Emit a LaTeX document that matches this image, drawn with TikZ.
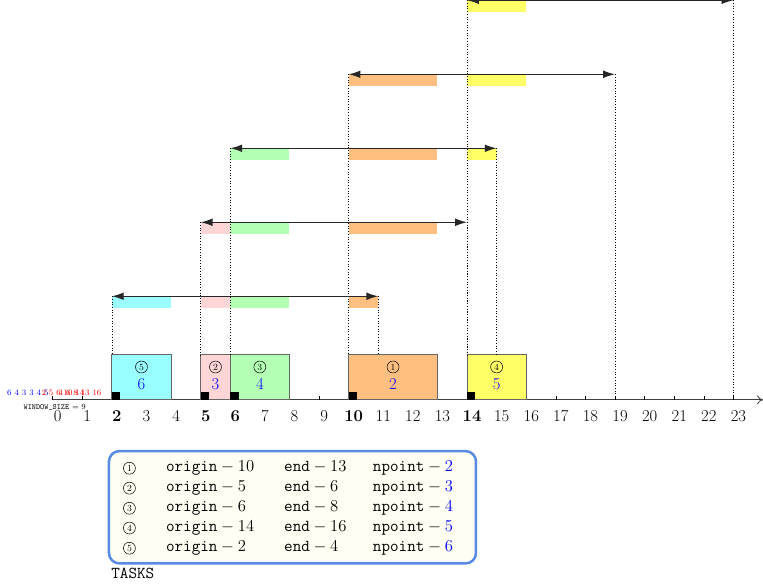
\RequirePackage{fix-cm}
\documentclass[tikz,border=0pt]{standalone}
\usepackage{fontspec}
\usepackage{xcolor}
\usepackage{array}
\usepackage{tikz}
\usetikzlibrary{arrows.meta, positioning}

\newcommand{\bigfont}{\fontsize{16}{19.2}\selectfont}
\newcommand{\circnum}[1]{\tikz[baseline=(cn.base)]\node[circle, draw, line width=0.5pt, inner sep=0pt, minimum size=11.5pt, font=\fontsize{9}{10}\selectfont] (cn) {#1};}

\definecolor{taskcyan}{RGB}{153,255,255}
\definecolor{taskpink}{RGB}{255,213,213}
\definecolor{taskgreen}{RGB}{179,255,179}
\definecolor{taskorange}{RGB}{255,191,128}
\definecolor{taskyellow}{RGB}{255,255,102}
\definecolor{taskblue}{RGB}{87,139,229}
\definecolor{taskcream}{RGB}{254,254,242}

\begin{document}
\begin{tikzpicture}[
        taskbox/.style={draw=black!60, line width=0.8pt},
        tasknum/.style={circle, draw, line width=0.5pt, inner sep=0pt, minimum size=11.5pt, font=\fontsize{9}{10}\selectfont},
        window/.style={draw=black!85, line width=1.2pt, {Latex[length=4mm,width=2.6mm]}-{Latex[length=4mm,width=2.6mm]}},
        guide/.style={dotted, semithick},
        axis/.style={draw=black!75, line width=0.8pt, -{To[length=2mm,width=3mm]}},
        every node/.style={font=\bigfont}
        ]

        \useasboundingbox (-1.78,-6.29) rectangle (24.0,13.51);

        % Axis
        \draw[axis] (0,0) -- (24,0);
        \foreach \i in {0,...,23}
            \draw (\i,0) -- (\i,0.13);
        \foreach \i in {0,1,3,4,7,8,9,11,12,13,15,16,...,23}
            \node (lab\i) at (\i+0.17,-0.54) {\i};
        \foreach \i in {2,5,6,10,14}
            \node[font=\bigfont\bfseries] (lab\i) at (\i+0.17,-0.54) {\i};

        % Leftover labels
        \node[anchor=west, text=blue, font=\fontsize{8}{9}\selectfont] (npts) at (-1.66,0.24) {6 4 3 3 4 5};
        \node[anchor=west, text=red, font=\fontsize{8}{9}\selectfont] (origins) at (-0.5,0.24) {2 5 6 10 14};
        \node[anchor=east, text=red, font=\fontsize{8}{9}\selectfont] (ends) at (1.77,0.24) {4 6 8 13 16};
        \node[font=\fontsize{7.5}{9}\selectfont] (wsize) at (0.07,-0.27) {\texttt{WINDOW\_SIZE} $= 9$};

        % Tasks
        \foreach \id/\a/\b/\n/\col in {1/10/13/2/taskorange, 2/5/6/3/taskpink, 3/6/8/4/taskgreen, 4/14/16/5/taskyellow, 5/2/4/6/taskcyan} {
            \draw[taskbox, fill=\col] (\a,0) rectangle (\b,1.52);
            \fill (\a,0) rectangle (\a+0.28,0.28);
            \node[tasknum] (c\id) at ({(\a+\b)/2},1.11) {\id};
            \node[text=blue] (n\id) at ({(\a+\b)/2},0.54) {\n};
        }

        % Windows
        \foreach \y/\a/\b/\col in {3.5/2/4/taskcyan, 3.5/5/6/taskpink, 3.5/6/8/taskgreen, 3.5/10/11/taskorange,
                6/5/6/taskpink, 6/6/8/taskgreen, 6/10/13/taskorange,
                8.5/6/8/taskgreen, 8.5/10/13/taskorange, 8.5/14/15/taskyellow,
                11/10/13/taskorange, 11/14/16/taskyellow,
                13.5/14/16/taskyellow}
            \fill[\col] (\a,\y) rectangle (\b,\y-0.4);
        \foreach \x/\y/\b in {2/3.5/1.52, 11/3.5/1.52, 5/6/1.52, 14/6/1.52, 6/8.5/1.52, 15/8.5/1.52,
                10/11/1.52, 19/11/0, 14/13.5/1.52, 23/13.5/0}
            \draw[guide] (\x,\y) -- (\x,\b);
        \foreach \k/\s/\e in {1/2/11, 2/5/14, 3/6/15, 4/10/19, 5/14/23} {
            \coordinate (ws\k) at (\s,1+2.5*\k);
            \coordinate (we\k) at (\e,1+2.5*\k);
            \draw[window] (ws\k) -- (we\k);
        }

        % Task list
        \node[draw=taskblue, line width=2.4pt, rounded corners=0.35cm, fill=taskcream,
            inner xsep=0.48cm, inner ysep=0.21cm, anchor=north west] (tasks) at (1.86,-1.69) {
            \begin{tabular}{@{}p{1.45cm}@{}p{3.99cm}@{}p{3cm}@{}p{3cm}@{}}
                \circnum{1} & $\texttt{origin} - 10$ & $\texttt{end} - 13$ & $\texttt{npoint} - \textcolor{blue}{2}$ \\
                \circnum{2} & $\texttt{origin} - 5$  & $\texttt{end} - 6$  & $\texttt{npoint} - \textcolor{blue}{3}$ \\
                \circnum{3} & $\texttt{origin} - 6$  & $\texttt{end} - 8$  & $\texttt{npoint} - \textcolor{blue}{4}$ \\
                \circnum{4} & $\texttt{origin} - 14$ & $\texttt{end} - 16$ & $\texttt{npoint} - \textcolor{blue}{5}$ \\
                \circnum{5} & $\texttt{origin} - 2$  & $\texttt{end} - 4$  & $\texttt{npoint} - \textcolor{blue}{6}$ \\
            \end{tabular}
        };
        \node[anchor=north west, font=\ttfamily\bigfont] (taskslabel) at (tasks.south west) {TASKS};

    \end{tikzpicture}
\end{document}
